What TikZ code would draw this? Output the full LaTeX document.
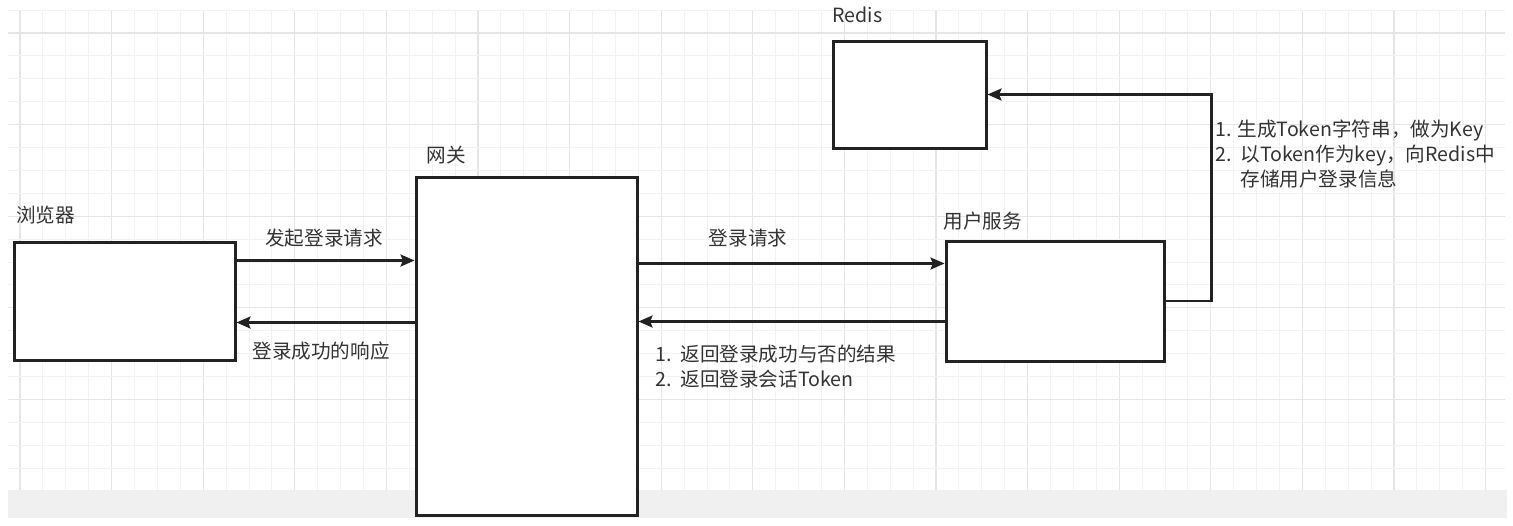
\documentclass[tikz,border=0pt]{standalone}
\usepackage{fontspec}
\setmainfont{Noto Sans CJK SC}
\usepackage{tikz}
\usetikzlibrary{calc}
\usetikzlibrary{arrows.meta}
\newcommand*{\gstep}{22.9}
\definecolor{inkgray}{HTML}{333333}
\definecolor{boxline}{HTML}{222222}
\tikzset{
  box/.style   = {draw=boxline, fill=white, line width=1.5pt, inner sep=0pt},
  title/.style = {text=inkgray, inner sep=0pt, anchor=west},
  note/.style  = {text=inkgray, inner sep=0pt},
  flow/.style  = {draw=boxline, line width=1.2pt, -{Stealth[length=7pt,width=6pt,inset=1.2pt]}},
  minorgrid/.style = {draw=black!5, line width=0.5pt},
  majorgrid/.style = {draw=black!10, line width=0.6pt},
}

\begin{document}
\begin{tikzpicture}[x=0.5pt, y=-0.5pt, font=\fontsize{9.8}{12.5}\selectfont]
    \useasboundingbox (0,0) rectangle (1513,525);
    \fill [white] (0,0) rectangle (1513,525);
    % background grid
    \foreach \k in {0,...,64} {
        \pgfmathtruncatemacro{\m}{mod(\k,4)}
        \ifnum\m=0 \def\gs{majorgrid}\else\def\gs{minorgrid}\fi
        \draw [\gs] ({20+\k*\gstep},10) -- ({20+\k*\gstep},490);
    }
    \foreach \k in {-1,...,19} {
        \pgfmathtruncatemacro{\m}{mod(\k+4,4)}
        \ifnum\m=0 \def\gs{majorgrid}\else\def\gs{minorgrid}\fi
        \draw [\gs] (8,{33+\k*\gstep}) -- (1505,{33+\k*\gstep});
    }
    \fill [black!6] (8,490) rectangle (1507,518);

    % boxes
    \node [box, minimum width=110.5pt, minimum height=59pt]  (browser) at (124.5,301) {};
    \node [box, minimum width=110.5pt, minimum height=169pt] (gateway) at (526.5,346) {};
    \node [box, minimum width=109pt,   minimum height=60pt]  (user)    at (1055,301)  {};
    \node [box, minimum width=76.5pt,  minimum height=53.5pt] (redis)  at (909.5,94.5) {};

    \node [title] (browserlbl) at (16,215)  {浏览器};
    \node [title] (gatewaylbl) at (426,155) {网关};
    \node [title] (userlbl)    at (943,221) {用户服务};
    \node [title] (redislbl)   at (832,15)  {Redis};

    % connectors
    \coordinate (b1) at ([yshift=-10pt]browser.north east);
    \coordinate (b2) at ([yshift=-41pt]browser.north east);
    \coordinate (u1) at ([yshift=-12pt]user.north west);
    \coordinate (u2) at ([yshift=-41pt]user.north west);
    \draw [flow] (b1) -- (b1 -| gateway.west);
    \draw [flow] (b2 -| gateway.west) -- (b2);
    \draw [flow] (u1 -| gateway.east) -- (u1);
    \draw [flow] (u2) -- (u2 -| gateway.east);
    \draw [flow] (user.east) -- ++(23pt,0) |- (redis.east);

    % labels
    \node [note] (reqlbl)   at (324,238) {发起登录请求};
    \node [note] (resplbl)  at (321,351) {登录成功的响应};
    \node [note] (loginlbl) at (748,238) {登录请求};
    \node [note, anchor=north west, align=left] (backlbl) at (655,345)
        {1.\ \ 返回登录成功与否的结果\\2.\ \ 返回登录会话Token};
    \node [note, anchor=north west, align=left] (tokenlbl) at (1215,119)
        {1. 生成Token字符串，做为Key\\2.\ \ 以Token作为key，向Redis中\\\phantom{2.\ \ }存储用户登录信息};
\end{tikzpicture}
\end{document}
